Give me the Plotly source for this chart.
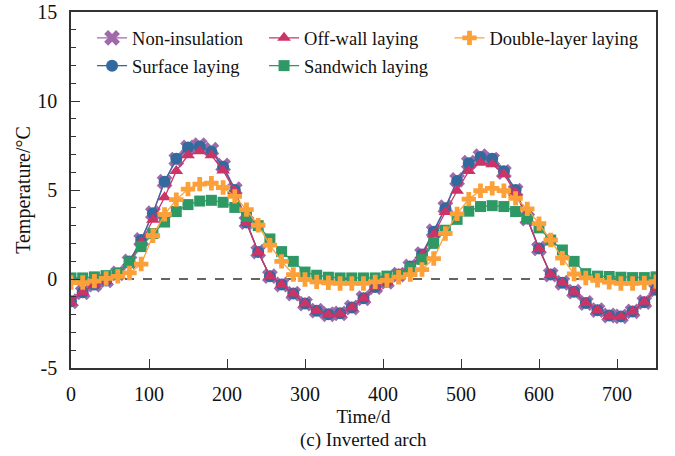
import plotly.graph_objects as go

days = list(range(0, 751, 15))

non_insulation = [-1.25, -0.75, -0.32, -0.08, 0.32, 0.99, 2.19, 3.70, 5.47, 6.71,
                  7.39, 7.52, 7.27, 6.38, 5.05, 3.20, 1.54, 0.16, -0.31, -0.82,
                  -1.38, -1.78, -1.98, -1.93, -1.60, -1.08, -0.45, -0.16, 0.25, 0.71,
                  1.40, 2.69, 4.03, 5.57, 6.53, 6.90, 6.71, 6.01, 4.96, 3.40,
                  1.72, 0.25, -0.21, -0.71, -1.35, -1.75, -2.05, -2.10, -1.82, -1.30,
                  -0.60]

surface = [-1.25, -0.74, -0.31, -0.08, 0.32, 0.99, 2.19, 3.70, 5.47, 6.75,
           7.39, 7.45, 7.15, 6.30, 5.00, 3.18, 1.52, 0.16, -0.31, -0.82,
           -1.38, -1.78, -1.98, -1.93, -1.60, -1.08, -0.45, -0.16, 0.25, 0.70,
           1.38, 2.65, 3.98, 5.50, 6.50, 6.85, 6.76, 6.06, 5.00, 3.40,
           1.72, 0.25, -0.21, -0.71, -1.35, -1.75, -2.05, -2.10, -1.82, -1.30,
           -0.60]

off_wall = [-1.30, -0.73, -0.30, -0.10, 0.28, 0.95, 2.05, 3.33, 4.59, 6.07,
            6.95, 7.17, 6.95, 6.10, 4.95, 3.15, 1.50, 0.16, -0.31, -0.82,
            -1.38, -1.78, -2.00, -1.95, -1.60, -1.08, -0.45, -0.16, 0.25, 0.65,
            1.36, 2.50, 3.76, 4.96, 6.07, 6.53, 6.44, 5.88, 4.86, 3.35,
            1.70, 0.25, -0.21, -0.71, -1.35, -1.75, -2.08, -2.12, -1.82, -1.28,
            -0.58]

sandwich = [0.06, 0.06, 0.12, 0.19, 0.30, 0.95, 1.82, 2.55, 3.20, 3.79,
            4.18, 4.38, 4.42, 4.31, 4.02, 3.52, 3.00, 2.25, 1.54, 0.99,
            0.39, 0.21, 0.10, 0.06, 0.06, 0.06, 0.06, 0.16, 0.25, 0.62,
            1.10, 2.00, 2.74, 3.35, 3.81, 4.07, 4.12, 4.07, 3.79, 3.39,
            2.87, 2.19, 1.63, 0.99, 0.30, 0.16, 0.14, 0.10, 0.08, 0.08,
            0.12]

double_layer = [-0.20, -0.20, -0.12, 0.03, 0.15, 0.34, 0.84, 2.43, 3.63, 4.46,
                5.05, 5.33, 5.38, 5.14, 4.64, 3.90, 3.02, 1.90, 0.99, 0.25,
                -0.03, -0.16, -0.21, -0.25, -0.25, -0.25, -0.16, -0.08, 0.10, 0.25,
                0.53, 1.15, 2.56, 3.66, 4.49, 4.96, 5.09, 4.96, 4.53, 3.94,
                3.11, 2.19, 1.17, 0.28, 0.06, -0.08, -0.18, -0.25, -0.25, -0.22,
                -0.15]

x_ticks = [0, 100, 200, 300, 400, 500, 600, 700]
y_ticks = [-5, 0, 5, 10, 15]
y_tick_text = ["-5", "0", "5", "10", "15"]

FONT = "Liberation Serif"
fig = go.Figure()

series = [
    ("Non-insulation", non_insulation, "#A06AAA", "x", 14, "legend"),
    ("Surface laying", surface, "#336A9E", "circle", 12, "legend4"),
    ("Off-wall laying", off_wall, "#CC3366", "triangle-up", 12, "legend2"),
    ("Sandwich laying", sandwich, "#2F9966", "square", 11, "legend5"),
    ("Double-layer laying", double_layer, "#FCA03A", "cross", 12, "legend3"),
]
for name, vals, col, sym, size, leg in series:
    fig.add_trace(go.Scatter(
        x=days, y=vals, name=name, mode="lines+markers",
        line=dict(color=col, width=1.3),
        marker=dict(symbol=sym, size=size, color=col, line=dict(width=0)),
        legend=leg,
    ))

fig.add_shape(type="line", xref="x", yref="y", x0=0, x1=750, y0=0, y1=0,
              line=dict(color="#333333", width=1.3, dash="dash"), layer="below")

def leg(x, y):
    return dict(x=x, y=y, xanchor="left", yanchor="middle", bgcolor="rgba(0,0,0,0)",
                font=dict(family=FONT, size=18.5, color="#111"), borderwidth=0)

fig.update_layout(
    width=675, height=456,
    margin=dict(l=71, r=19, t=12, b=88),
    plot_bgcolor="white", paper_bgcolor="white",
    showlegend=True,
    font=dict(family=FONT, size=20, color="#111"),
    legend=leg(0.036, 0.926),
    legend2=leg(0.330, 0.926),
    legend3=leg(0.647, 0.926),
    legend4=leg(0.036, 0.848),
    legend5=leg(0.330, 0.848),
    xaxis=dict(range=[0, 750], tickvals=x_ticks, ticks="inside", ticklen=9, tickwidth=1.3,
               tickcolor="#333", showline=True, linecolor="#333", linewidth=1.5, mirror=True,
               showgrid=False, zeroline=False, ticklabelstandoff=7, ticklabeloverflow="allow",
               automargin=False, tickfont=dict(family=FONT, size=20),
               title=dict(text="Time/d", standoff=6, font=dict(family=FONT, size=19))),
    yaxis=dict(range=[-5, 15], tickvals=y_ticks, ticktext=y_tick_text, ticks="inside",
               ticklen=9, tickwidth=1.3,
               tickcolor="#333", showline=True, linecolor="#333", linewidth=1.5, mirror=True,
               showgrid=False, zeroline=False, ticklabelstandoff=8, ticklabeloverflow="allow",
               automargin=False, tickfont=dict(family=FONT, size=20),
               minor=dict(dtick=1, ticks="inside", ticklen=5, tickwidth=1.2, tickcolor="#333", showgrid=False),
               title=dict(text="Temperature/°C", standoff=1, font=dict(family=FONT, size=20))),
    annotations=[dict(text="(c) Inverted arch", xref="paper", yref="paper", x=0.5, y=-0.203,
                      xanchor="center", yanchor="middle", showarrow=False,
                      font=dict(family=FONT, size=19, color="#111"))],
)

fig.write_html("out.html")
